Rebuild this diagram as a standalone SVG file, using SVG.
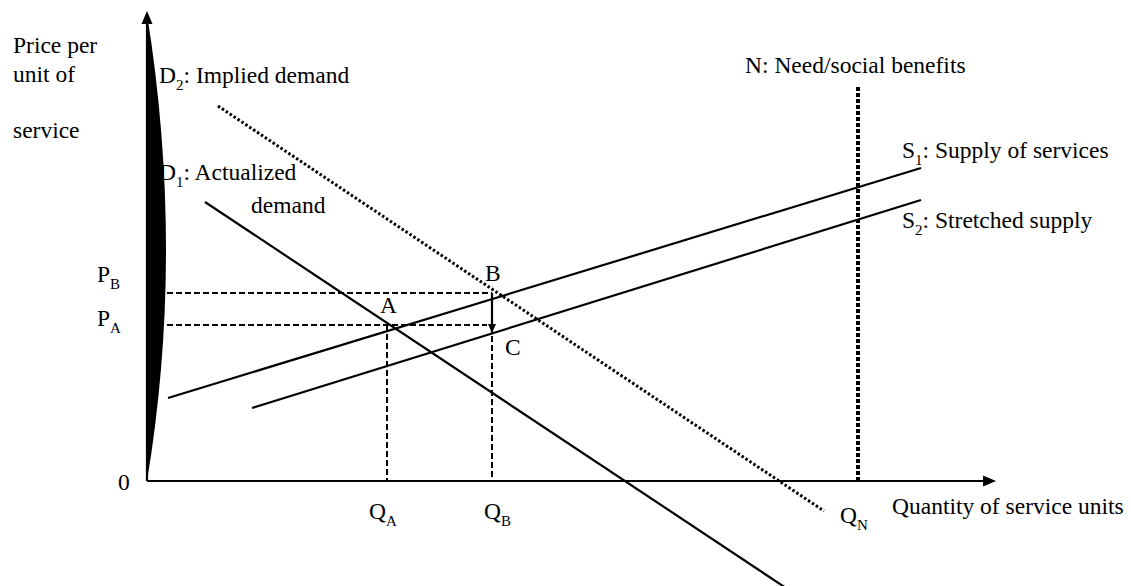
<svg xmlns="http://www.w3.org/2000/svg" width="1131" height="586" viewBox="0 0 1131 586">
<style>
text{font-family:"Liberation Serif","Times New Roman",serif;font-size:23.5px;fill:#000}
.sub{font-size:15px}
.solid{stroke:#000;stroke-width:2.2;fill:none}
.dash{stroke:#000;stroke-width:2;fill:none;stroke-dasharray:6 3}
.dot{stroke:#000;stroke-width:3;fill:none;stroke-dasharray:2.5 2.2}
.ndot{stroke:#000;stroke-width:4;fill:none;stroke-dasharray:4 2}
</style>
<defs>
<marker id="ah" markerWidth="10" markerHeight="10" refX="9" refY="5" orient="auto" markerUnits="userSpaceOnUse">
<path d="M0,1 L9,5 L0,9 Z" fill="#000"/>
</marker>
</defs>
<rect width="1131" height="586" fill="#fff"/>

<g id="labels">
<text x="13" y="53">Price per</text>
<text x="13" y="82">unit of</text>
<text x="13" y="138">service</text>
<text x="159" y="83">D<tspan class="sub" dy="7">2</tspan><tspan dy="-7">: Implied demand</tspan></text>
<text x="159" y="180">D<tspan class="sub" dy="7">1</tspan><tspan dy="-7">: Actualized</tspan></text>
<text x="251" y="213">demand</text>
<text x="745" y="73">N: Need/social benefits</text>
<text x="902" y="158">S<tspan class="sub" dy="7">1</tspan><tspan dy="-7">: Supply of services</tspan></text>
<text x="902" y="228">S<tspan class="sub" dy="7">2</tspan><tspan dy="-7">: Stretched supply</tspan></text>
<text x="97" y="282">P<tspan class="sub" dy="7">B</tspan></text>
<text x="97" y="326">P<tspan class="sub" dy="7">A</tspan></text>
<text x="380" y="313">A</text>
<text x="485" y="281">B</text>
<text x="505" y="355">C</text>
<text x="118" y="490">0</text>
<text x="369" y="519">Q<tspan class="sub" dy="7">A</tspan></text>
<text x="484" y="519">Q<tspan class="sub" dy="7">B</tspan></text>
<text x="840" y="523">Q<tspan class="sub" dy="7">N</tspan></text>
<text x="892" y="514">Quantity of service units</text>
</g>

<g id="axes">
<path id="wedge" d="M147,14 Q185,252 147,481 Z" fill="#000"/>
<line class="solid" x1="147" y1="481" x2="147" y2="14" stroke-width="2.5"/>
<path d="M141.5,24 L147,11 L152.5,24 Z" fill="#000"/>
<line class="solid" x1="147" y1="481" x2="985" y2="481" stroke-width="2.5"/>
<path d="M983,475.5 L996,481 L983,486.5 Z" fill="#000"/>
</g>

<g id="connectors">
<line id="D2" class="dot" x1="218" y1="106" x2="824" y2="511"/>
<line id="D1" class="solid" x1="205" y1="202" x2="786" y2="588"/>
<line id="S1" class="solid" x1="168" y1="398" x2="921" y2="168"/>
<line id="S2" class="solid" x1="252" y1="408" x2="921" y2="200"/>
<line id="N" class="ndot" x1="858" y1="87" x2="858" y2="481"/>
<line class="dash" x1="167" y1="293" x2="492" y2="293"/>
<line class="dash" x1="167" y1="325" x2="487" y2="325"/>
<line class="dash" x1="387" y1="325" x2="387" y2="481"/>
<line class="dash" x1="492" y1="336" x2="492" y2="481"/>
<line class="solid" x1="492" y1="293" x2="492" y2="333" marker-end="url(#ah)"/>
</g>
</svg>
